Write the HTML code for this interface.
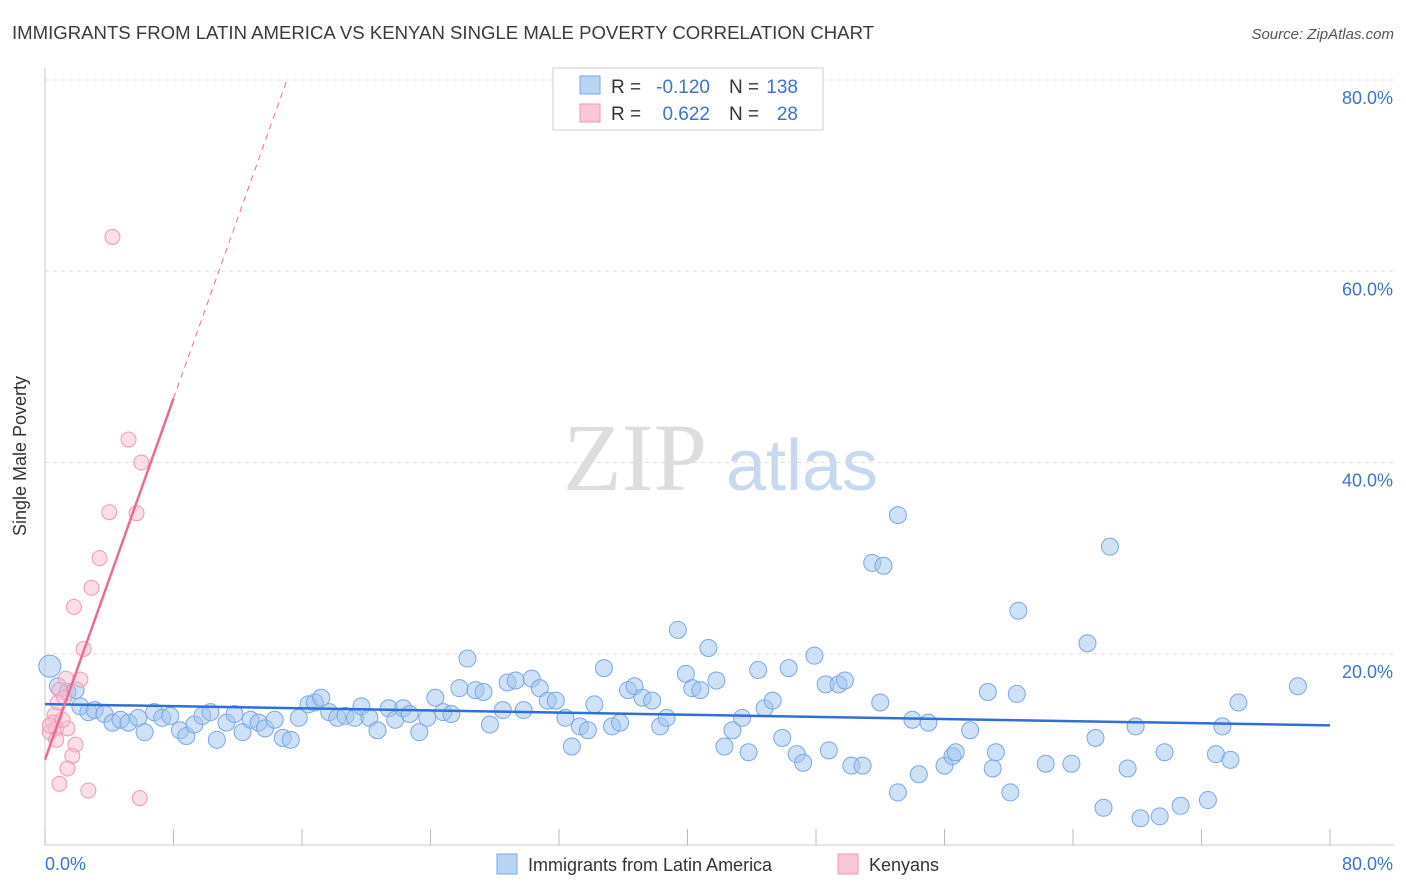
<!DOCTYPE html>
<html><head><meta charset="utf-8"><style>
body{margin:0;background:#fff;font-family:"Liberation Sans",sans-serif;}
svg{display:block}
</style></head><body>
<svg id="c" width="1406" height="892" xmlns="http://www.w3.org/2000/svg">
<text x="12" y="39" font-size="18" fill="#3a3a3a" textLength="862" lengthAdjust="spacingAndGlyphs">IMMIGRANTS FROM LATIN AMERICA VS KENYAN SINGLE MALE POVERTY CORRELATION CHART</text>
<text x="1394" y="39" font-size="15" fill="#555" text-anchor="end" font-style="italic">Source: ZipAtlas.com</text>
<text x="26" y="456" font-size="18" fill="#333" text-anchor="middle" transform="rotate(-90 26 456)">Single Male Poverty</text>
<g><text x="635" y="490" font-size="96" fill="#ddd" text-anchor="middle" font-family="Liberation Serif,serif">ZIP</text><text x="802" y="490" font-size="72" fill="#c8d8ee" text-anchor="middle">atlas</text></g>
<g id="grid"></g><g id="axes"></g><g id="marks"></g>
<g>
<rect x="553" y="68" width="270" height="62" fill="#fff" stroke="#ccc"/>
<rect x="580" y="76" width="20" height="18" fill="#b8d4f4" stroke="#7aa8e0"/>
<text x="611" y="93" font-size="19" fill="#333">R =</text>
<text x="710" y="93" font-size="19" fill="#3b73d0" text-anchor="end">-0.120</text>
<text x="729" y="93" font-size="19" fill="#333">N =</text>
<text x="798" y="93" font-size="19" fill="#3b73d0" text-anchor="end">138</text>
<rect x="580" y="104" width="20" height="18" fill="#f9c8d6" stroke="#ee99b2"/>
<text x="611" y="120" font-size="19" fill="#333">R =</text>
<text x="710" y="120" font-size="19" fill="#3b73d0" text-anchor="end">0.622</text>
<text x="729" y="120" font-size="19" fill="#333">N =</text>
<text x="798" y="120" font-size="19" fill="#3b73d0" text-anchor="end">28</text>
</g>
<g>
<rect x="497" y="854" width="20" height="20" fill="#b8d4f4" stroke="#7aa8e0"/>
<text x="528" y="871" font-size="18" fill="#333">Immigrants from Latin America</text>
<rect x="838" y="854" width="20" height="20" fill="#f9c8d6" stroke="#ee99b2"/>
<text x="869" y="871" font-size="18" fill="#333">Kenyans</text>
</g>
</svg>
<script>
const blueX=[0.3,0.8,1.4,1.9,2.2,2.7,3.1,3.7,4.2,4.7,5.2,5.8,6.2,6.8,7.3,7.8,8.4,8.8,9.3,9.8,10.3,10.7,11.3,11.8,12.3,12.8,13.3,13.7,14.3,14.8,15.3,15.8,16.4,16.8,17.2,17.7,18.2,18.7,19.3,19.7,20.2,20.7,21.4,21.8,22.3,22.7,23.3,23.8,24.3,24.8,25.3,25.8,26.3,26.8,27.3,27.7,28.5,28.8,29.3,29.8,30.3,30.8,31.3,31.8,32.4,32.8,33.3,33.8,34.2,34.8,35.3,35.8,36.3,36.7,37.2,37.8,38.3,38.7,39.4,39.9,40.3,40.8,41.3,41.8,42.3,42.8,43.4,43.8,44.4,44.8,45.3,45.9,46.3,46.8,47.2,47.9,48.6,48.8,49.4,49.8,50.2,50.9,52.0,51.5,52.2,53.1,53.1,54.0,54.4,55.0,56.0,56.5,56.7,57.6,58.7,59.0,59.2,60.1,60.5,60.6,62.3,63.9,64.9,65.4,65.9,66.3,67.4,67.9,68.2,69.4,69.7,70.7,72.4,72.9,73.3,73.8,74.3,78.0];
const blueY=[18.7,16.6,16.0,16.2,14.5,13.9,14.1,13.7,12.8,13.1,12.8,13.3,11.8,13.9,13.3,13.5,12.0,11.4,12.6,13.5,13.9,11.0,12.8,13.7,11.8,13.1,12.8,12.2,13.1,11.2,11.0,13.3,14.7,14.9,15.4,13.9,13.3,13.5,13.3,14.5,13.3,12.0,14.3,13.1,14.3,13.7,11.8,13.3,15.4,13.9,13.7,16.4,19.5,16.2,16.0,12.6,14.1,17.0,17.2,14.1,17.4,16.4,15.1,15.1,13.3,10.3,12.4,12.0,14.7,18.5,12.4,12.8,16.2,16.6,15.4,15.1,12.4,13.3,22.5,17.9,16.4,16.2,20.6,17.2,10.3,12.0,13.3,9.7,18.3,14.3,15.1,11.2,18.5,9.5,8.6,19.8,16.8,9.9,16.8,17.2,8.3,8.3,14.9,29.5,29.2,34.5,5.5,13.1,7.4,12.8,8.3,9.3,9.7,12.0,16.0,8.0,9.7,5.5,15.8,24.5,8.5,8.5,21.1,11.2,3.9,31.2,8.0,12.4,2.8,3.0,9.7,4.1,4.7,9.5,12.4,8.9,14.9,16.6];
const pinkX=[4.2,5.2,6.0,4.0,5.7,3.4,2.9,1.8,2.4,2.2,1.3,0.9,0.6,0.5,0.7,0.3,1.4,1.9,1.7,1.4,0.9,2.7,5.9,0.8,0.3,1.1,0.7,1.2];
const pinkY=[63.6,42.4,40.0,34.8,34.7,30.0,26.9,24.9,20.5,17.3,17.4,16.2,13.6,12.8,12.2,11.8,12.2,10.5,9.3,8.0,6.4,5.7,4.9,14.9,12.5,13.1,11.0,15.4];
const yTicks=[20,40,60,80];
const yTickLabels=["20.0%","40.0%","60.0%","80.0%"];
const xTicks=[0,8,16,24,32,40,48,56,64,72,80];
const xEndLabels=["0.0%","80.0%"];

const NS="http://www.w3.org/2000/svg";
const sx=v=>45+v*(1285/80);
const sy=v=>845-v*(765/80);
function mk(tag,attrs,parent){const e=document.createElementNS(NS,tag);for(const k in attrs)e.setAttribute(k,attrs[k]);parent.appendChild(e);return e;}
const grid=document.getElementById('grid'),axes=document.getElementById('axes'),marks=document.getElementById('marks');
yTicks.forEach((t,i)=>{
  const l=mk('line',{x1:45,x2:1394,y1:sy(t),y2:sy(t),stroke:'#ddd','stroke-dasharray':'4,4'},grid);
  
  
  const tx=mk('text',{x:1393,y:sy(t)+24,'font-size':18,fill:'#3b73d0','text-anchor':'end'},axes);
  tx.textContent=yTickLabels[i];
  
  
});
const ya=mk('line',{x1:45,x2:45,y1:68,y2:845,stroke:'#ccc'},axes);


const xa=mk('line',{x1:45,x2:1394,y1:845,y2:845,stroke:'#ccc'},axes);


xTicks.forEach(t=>{
  const l=mk('line',{x1:sx(t),x2:sx(t),y1:829,y2:845,stroke:'#bbb'},axes);
  
  
});
const xl0=mk('text',{x:45,y:870,'font-size':18,fill:'#3b73d0'},axes);
xl0.textContent=xEndLabels[0];


const xl1=mk('text',{x:1393,y:870,'font-size':18,fill:'#3b73d0','text-anchor':'end'},axes);
xl1.textContent=xEndLabels[1];



function fit(X,Y){const n=X.length;let mx=0,my=0;for(let i=0;i<n;i++){mx+=X[i];my+=Y[i];}mx/=n;my/=n;let sxy=0,sxx=0;for(let i=0;i<n;i++){sxy+=(X[i]-mx)*(Y[i]-my);sxx+=(X[i]-mx)**2;}const b=sxy/sxx;return [my-b*mx,b];}

blueX.forEach((x,i)=>{
  const c=mk('circle',{cx:sx(x),cy:sy(blueY[i]),r:i===0?11:8.5,fill:'rgba(160,196,240,0.5)',stroke:'#7aa8e0','stroke-width':1},marks);
  
  
});
pinkX.forEach((x,i)=>{
  const c=mk('circle',{cx:sx(x),cy:sy(pinkY[i]),r:7.5,fill:'rgba(249,190,208,0.5)',stroke:'#ee99b2','stroke-width':1},marks);
  
  
});
const [ba,bb]=fit(blueX,blueY);
const bl=mk('line',{x1:sx(0),y1:sy(ba),x2:sx(80),y2:sy(ba+bb*80),stroke:'#2f6fd6','stroke-width':2.5},marks);


const [pa,pb]=fit(pinkX,pinkY);
const pxMax=Math.max(...pinkX)+2;
const pEnd=(80-pa)/pb;
const pl=mk('line',{x1:sx(0),y1:sy(pa),x2:sx(pxMax),y2:sy(pa+pb*pxMax),stroke:'#ec6a96','stroke-width':2.5},marks);


const pd=mk('line',{x1:sx(pxMax),y1:sy(pa+pb*pxMax),x2:sx(pEnd),y2:sy(80),stroke:'#ec6a96','stroke-width':1,'stroke-dasharray':'6,5'},marks);


</script>
</body></html>
